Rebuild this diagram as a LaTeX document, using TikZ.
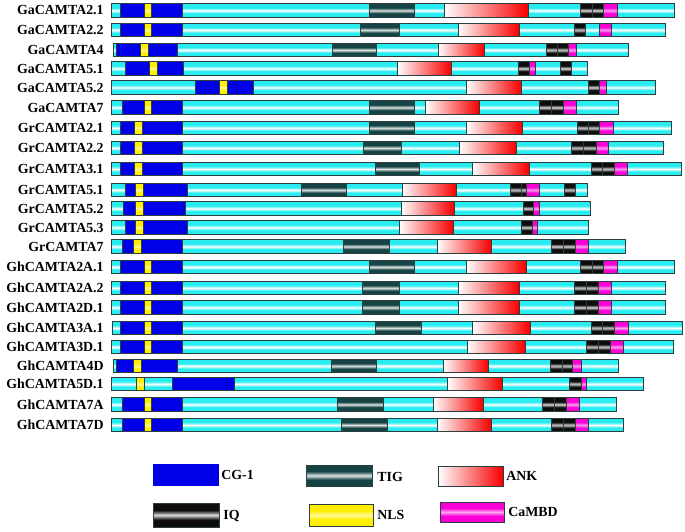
\documentclass[tikz,border=0pt]{standalone}
\usepackage{fontspec}
\setmainfont{Liberation Serif}
\usepackage{xcolor}
\usetikzlibrary{positioning}

\definecolor{tubecyan}{RGB}{40,236,240}
\definecolor{tigteal}{RGB}{22,68,68}
\definecolor{cgblue}{RGB}{0,0,232}
\definecolor{ankred}{RGB}{248,0,0}
\definecolor{cambdpink}{RGB}{250,0,215}
\definecolor{nlsyellow}{RGB}{255,238,0}
\definecolor{edgegray}{RGB}{45,62,62}
\colorlet{tubeedge}{tubecyan}
\colorlet{tubemid}{white}

% tube look: flat colour with a narrow light stripe in the middle
\pgfdeclareverticalshading[tubeedge,tubemid]{tube}{100bp}{%
    color(0bp)=(tubeedge); color(40bp)=(tubeedge); color(50bp)=(tubemid);
    color(60bp)=(tubeedge); color(100bp)=(tubeedge)}

\tikzset{
    tubeof/.style 2 args={draw=edgegray, line width=0.5pt,
        /utils/exec={\colorlet{tubeedge}{#1}\colorlet{tubemid}{#2}}, shading=tube},
    backbone/.style={tubeof={tubecyan}{white}},
    cgone/.style={draw=edgegray, line width=0.5pt, fill=cgblue},
    tig/.style={tubeof={tigteal}{white!85!tigteal}},
    ank/.style={draw=edgegray, line width=0.5pt, left color=white, right color=ankred},
    iq/.style={tubeof={black!95}{white!85!black}},
    nls/.style={tubeof={nlsyellow}{white!60!nlsyellow}},
    cambd/.style={tubeof={cambdpink}{white!65!cambdpink}},
    protname/.style={anchor=east, inner sep=0pt, font=\fontsize{7.9}{9}\selectfont\bfseries},
    legtext/.style={anchor=west, inner sep=0pt, font=\fontsize{7.9}{9}\selectfont\bfseries}
}

% one protein: index, y, name, start, end, domains
\newcommand{\protrow}[6]{%
    \draw[backbone] (#4,#2-6.75) rectangle (#5,#2+6.75);
    \foreach \dom/\from/\to in {#6} {\draw[\dom] (\from,#2-6.75) rectangle (\to,#2+6.75);}
    \node[protname] (prot#1) at (104,#2) {#3};
}

\begin{document}
\begin{tikzpicture}[x=0.02cm, y=-0.02cm]
    \useasboundingbox (0,0) rectangle (685,531);

    % =================================================================
    % G. arboreum
    % =================================================================
    \protrow{1}{10.5}{GaCAMTA2.1}{111}{674}{cgone/120/182, nls/144/151, tig/369/414, ank/444/528, iq/580/592, iq/592/603, cambd/603/617}
    \protrow{2}{30}{GaCAMTA2.2}{111}{665}{cgone/120/182, nls/144/151, tig/360/399, ank/458/519, iq/574/585, cambd/599/611}
    \protrow{3}{50}{GaCAMTA4}{113}{628}{cgone/116/177, nls/140/148, tig/332/376, ank/438/484, iq/546/557, iq/557/568, cambd/568/576}
    \protrow{4}{68.5}{GaCAMTA5.1}{111}{587}{cgone/125/183, nls/149/157, ank/397/451, iq/518/529, cambd/529/535, iq/560/571}
    \protrow{5}{87.5}{GaCAMTA5.2}{111}{655}{cgone/195/253, nls/219/227, ank/466/521, iq/588/599, cambd/599/606}
    \protrow{6}{107.5}{GaCAMTA7}{111}{618}{cgone/122/182, nls/144/151, tig/369/414, ank/425/479, iq/539/551, iq/551/563, cambd/563/576}

    % =================================================================
    % G. raimondii
    % =================================================================
    \protrow{7}{128}{GrCAMTA2.1}{111}{671}{cgone/120/182, nls/134/142, tig/369/414, ank/466/522, iq/577/588, iq/588/599, cambd/599/613}
    \protrow{8}{148}{GrCAMTA2.2}{111}{663}{cgone/120/182, nls/134/142, tig/363/401, ank/459/516, iq/571/583, iq/583/596, cambd/596/608}
    \protrow{9}{169}{GrCAMTA3.1}{111}{681}{cgone/120/182, nls/134/142, tig/375/419, ank/472/529, iq/591/602, iq/602/614, cambd/614/627}
    \protrow{10}{190}{GrCAMTA5.1}{111}{587}{cgone/125/187, nls/135/143, tig/301/346, ank/402/456, iq/510/521, iq/521/526, cambd/526/539, iq/564/575}
    \protrow{11}{208.5}{GrCAMTA5.2}{111}{590}{cgone/123/185, nls/135/143, ank/401/454, iq/523/533, cambd/533/539}
    \protrow{12}{227.5}{GrCAMTA5.3}{111}{588}{cgone/125/187, nls/135/143, ank/399/453, iq/521/532, cambd/532/537}
    \protrow{13}{246.5}{GrCAMTA7}{111}{625}{cgone/122/182, nls/133/141, tig/343/389, ank/437/491, iq/551/563, iq/563/575, cambd/575/588}

    % =================================================================
    % G. hirsutum
    % =================================================================
    \protrow{14}{267}{GhCAMTA2A.1}{111}{674}{cgone/120/182, nls/144/151, tig/369/414, ank/466/526, iq/580/592, iq/592/603, cambd/603/617}
    \protrow{15}{288}{GhCAMTA2A.2}{111}{665}{cgone/120/182, nls/144/151, tig/362/399, ank/458/519, iq/574/586, iq/586/598, cambd/598/611}
    \protrow{16}{307.5}{GhCAMTA2D.1}{111}{665}{cgone/120/182, nls/144/151, tig/362/399, ank/458/519, iq/574/586, iq/586/598, cambd/598/611}
    \protrow{17}{328}{GhCAMTA3A.1}{112}{682}{cgone/120/182, nls/144/151, tig/375/421, ank/472/530, iq/591/602, iq/602/614, cambd/614/628}
    \protrow{18}{347}{GhCAMTA3D.1}{111}{673}{cgone/120/182, nls/144/151, ank/467/525, iq/586/598, iq/598/610, cambd/610/623}
    \protrow{19}{366}{GhCAMTA4D}{113}{618}{cgone/116/177, nls/133/141, tig/331/376, ank/443/488, iq/550/562, iq/562/572, cambd/572/581}
    \protrow{20}{384}{GhCAMTA5D.1}{111}{643}{nls/136/144, cgone/172/234, ank/447/502, iq/569/581, cambd/581/586}
    \protrow{21}{404.5}{GhCAMTA7A}{111}{616}{cgone/122/182, nls/144/151, tig/337/383, ank/433/483, iq/542/554, iq/554/566, cambd/566/579}
    \protrow{22}{425}{GhCAMTA7D}{111}{623}{cgone/122/182, nls/144/151, tig/341/387, ank/437/491, iq/551/563, iq/563/575, cambd/575/588}

    % =================================================================
    % Legend
    % =================================================================
    \draw[cgone, draw=cgblue] (153,464) rectangle (218,485);
    \node[legtext] (legcg) at (221,475) {CG-1};
    \draw[tig] (306,465) rectangle (372,486);
    \node[legtext] (legtig) at (377,477) {TIG};
    \draw[ank] (438,466) rectangle (503,486);
    \node[legtext] (legank) at (506,476) {ANK};

    \draw[iq] (153,503) rectangle (219,527);
    \node[legtext] (legiq) at (223,516) {IQ};
    \draw[nls] (309,504) rectangle (373,526);
    \node[legtext] (legnls) at (377,515) {NLS};
    \draw[cambd] (440,502) rectangle (504,522);
    \node[legtext] (legcam) at (508,512) {CaMBD};

\end{tikzpicture}
\end{document}
